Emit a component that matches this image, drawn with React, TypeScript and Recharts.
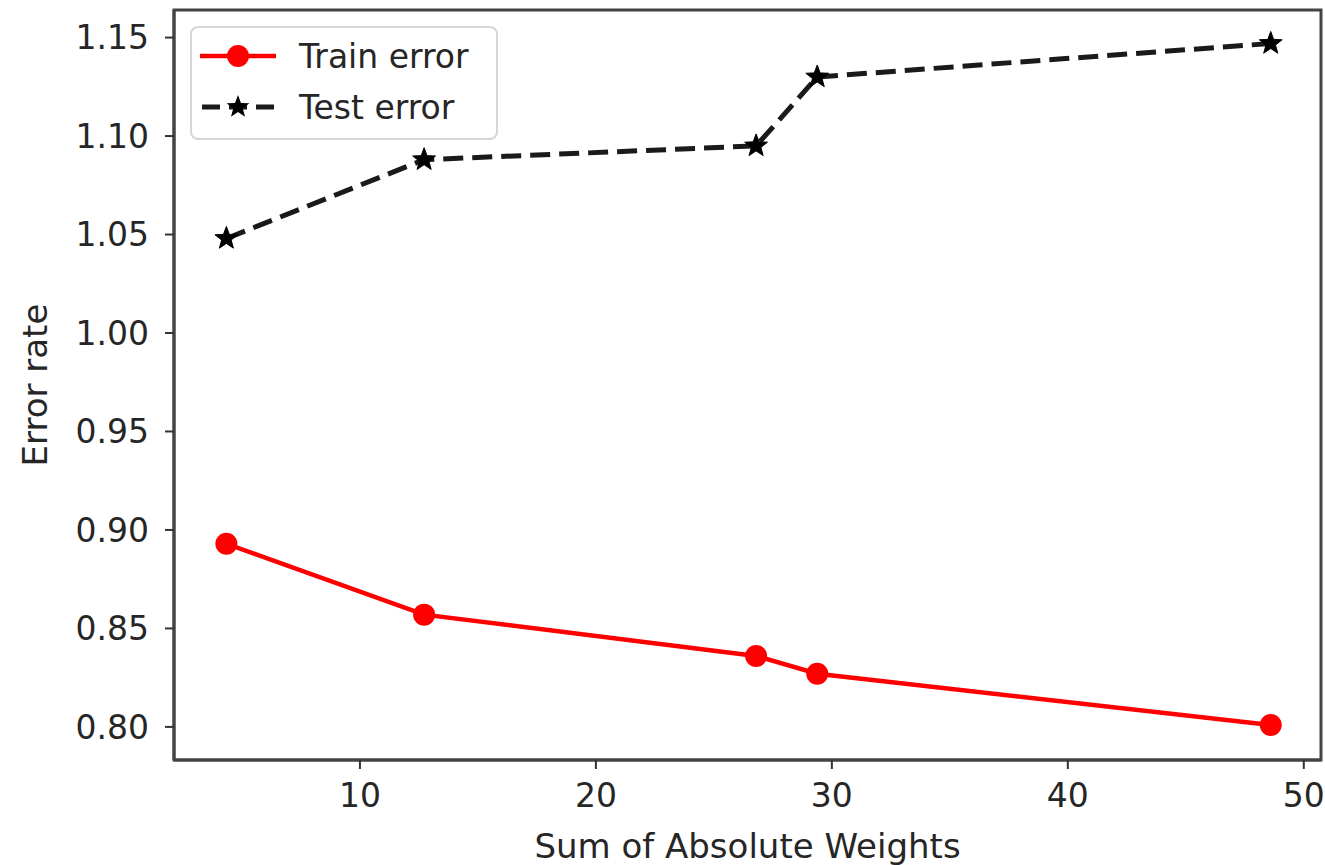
import React from 'react';
import { LineChart, Line, XAxis, YAxis, Legend, ReferenceArea } from 'recharts';

const sumWeights = [4.34, 12.72, 26.79, 29.38, 48.6];
const trainError = [0.893, 0.857, 0.836, 0.827, 0.801];
const testError = [1.048, 1.088, 1.095, 1.13, 1.147];
const xTicks = [10, 20, 30, 40, 50];
const yTicks = [0.8, 0.85, 0.9, 0.95, 1.0, 1.05, 1.1, 1.15];
const xDomain = [2.12, 50.73];
const yDomain = [0.7832, 1.164];
const trainName = 'Train error';
const testName = 'Test error';
const xLabel = 'Sum of Absolute Weights';
const yLabel = 'Error rate';

const data = sumWeights.map((x, i) => ({ x, train: trainError[i], test: testError[i] }));

const FONT = '"DejaVu Sans", sans-serif';
const TEXT = '#262626';

function starPoints(cx: number, cy: number, ro: number, ri: number) {
  const pts: string[] = [];
  for (let i = 0; i < 10; i++) {
    const r = i % 2 === 0 ? ro : ri;
    const a = -Math.PI / 2 + (i * Math.PI) / 5;
    pts.push(`${cx + r * Math.cos(a)},${cy + r * Math.sin(a)}`);
  }
  return pts.join(' ');
}

const StarDot = (props: any) => {
  const { cx, cy, index } = props;
  if (cx == null || cy == null) return <g key={`s${index}`} />;
  return <polygon key={`s${index}`} points={starPoints(cx, cy, 12, 5)} fill="#000" stroke="#000" strokeWidth={1} />;
};

const CircleDot = (props: any) => {
  const { cx, cy, index } = props;
  if (cx == null || cy == null) return <g key={`c${index}`} />;
  return <circle key={`c${index}`} cx={cx} cy={cy} r={11} fill="#ff0000" />;
};

const LegendContent = () => (
  <svg width={310} height={116} style={{ display: 'block' }}>
    <rect x={1} y={1} width={306} height={112} rx={7} ry={7} fill="rgba(255,255,255,0.8)" stroke="#d6d6d6" strokeWidth={2} />
    <line x1={10} y1={30} x2={86} y2={30} stroke="#ff0000" strokeWidth={4.5} />
    <circle cx={48} cy={30} r={11} fill="#ff0000" />
    <text x={109} y={30} dy="0.36em" fontFamily={FONT} fontSize={33} fill={TEXT}>{trainName}</text>
    <line x1={12} y1={81} x2={84} y2={81} stroke="#1a1a1a" strokeWidth={5} strokeDasharray="18 9" />
    <polygon points={starPoints(48, 81, 12, 5)} fill="#000" />
    <text x={109} y={81} dy="0.36em" fontFamily={FONT} fontSize={33} fill={TEXT}>{testName}</text>
  </svg>
);

export default function App() {
  return (
    <div style={{ position: 'absolute', left: 0, top: 0, width: 1325, height: 865, background: '#fff' }}>
      <LineChart width={1325} height={865} data={data} margin={{ top: 10, right: 4, left: 0, bottom: 0 }}>
        <XAxis
          dataKey="x"
          type="number"
          domain={xDomain}
          ticks={xTicks}
          allowDataOverflow
          height={105}
          tickSize={9}
          tickMargin={15}
          axisLine={{ stroke: '#444', strokeWidth: 3 }}
          tickLine={{ stroke: '#333', strokeWidth: 2 }}
          tick={{ fontFamily: FONT, fontSize: 33, fill: TEXT }}
          label={{
            content: (p: any) => {
              const vb = p.viewBox;
              return (
                <text x={vb.x + vb.width / 2} y={vb.y + 98} textAnchor="middle" fontFamily={FONT} fontSize={34} fill={TEXT}>
                  {xLabel}
                </text>
              );
            },
          }}
        />
        <YAxis
          type="number"
          domain={yDomain}
          ticks={yTicks}
          allowDataOverflow
          width={174}
          tickSize={9}
          tickMargin={16}
          tickFormatter={(v: number) => v.toFixed(2)}
          axisLine={{ stroke: '#444', strokeWidth: 3 }}
          tickLine={{ stroke: '#333', strokeWidth: 2 }}
          tick={{ fontFamily: FONT, fontSize: 33, fill: TEXT }}
          label={{
            content: (p: any) => {
              const vb = p.viewBox;
              const cx = 47;
              const cy = vb.y + vb.height / 2;
              return (
                <text x={cx} y={cy} textAnchor="middle" transform={`rotate(-90 ${cx} ${cy})`} fontFamily={FONT} fontSize={34} fill={TEXT}>
                  {yLabel}
                </text>
              );
            },
          }}
        />
        <ReferenceArea x1={xDomain[0]} x2={xDomain[1]} y1={yDomain[0]} y2={yDomain[1]} fill="none" stroke="#444" strokeWidth={3} ifOverflow="visible" />
        <Line
          dataKey="train"
          name={trainName}
          stroke="#ff0000"
          strokeWidth={4.5}
          dot={CircleDot}
          activeDot={false}
          isAnimationActive={false}
        />
        <Line
          dataKey="test"
          name={testName}
          stroke="#1a1a1a"
          strokeWidth={5}
          strokeDasharray="20 9"
          dot={StarDot}
          activeDot={false}
          isAnimationActive={false}
        />
        <Legend
          layout="horizontal"
          verticalAlign="middle"
          align="center"
          content={LegendContent}
          wrapperStyle={{ position: 'absolute', left: 190, top: 26, width: 310, height: 116 }}
        />
      </LineChart>
    </div>
  );
}
